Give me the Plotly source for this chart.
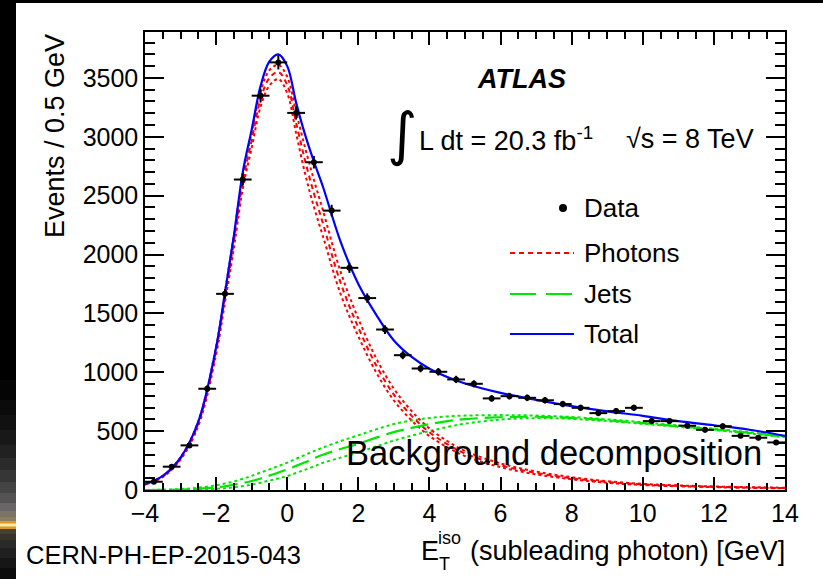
import plotly.graph_objects as go

# ---------------- data ----------------
bin_centers = [-3.75, -3.25, -2.75, -2.25, -1.75, -1.25, -0.75, -0.25, 0.25, 0.75,
               1.25, 1.75, 2.25, 2.75, 3.25, 3.75, 4.25, 4.75, 5.25, 5.75,
               6.25, 6.75, 7.25, 7.75, 8.25, 8.75, 9.25, 9.75, 10.25, 10.75,
               11.25, 11.75, 12.25, 12.75, 13.25, 13.75]
data_counts = [70, 198, 379, 860, 1666, 2637, 3349, 3632, 3203, 2784,
               2373, 1887, 1630, 1363, 1145, 1032, 1004, 939, 902, 778,
               797, 783, 762, 730, 698, 653, 670, 698, 585, 585,
               546, 511, 542, 460, 444, 404]
data_err = [8, 14, 19, 29, 41, 51, 58, 60, 57, 53,
            49, 43, 40, 37, 34, 32, 32, 31, 30, 28,
            28, 28, 28, 27, 26, 26, 26, 26, 24, 24,
            23, 23, 23, 21, 21, 20]
bin_halfwidth = [0.25] * len(bin_centers)

curve_x = [-4, -3.5, -3, -2.5, -2, -1.75, -1.5, -1.25, -1, -0.75, -0.5, -0.25, 0, 0.25,
           0.5, 0.75, 1, 1.5, 2, 2.5, 3, 3.5, 4, 4.5, 5, 6, 7, 8, 9, 10, 11, 12, 13, 14]
total = [50, 120, 275, 580, 1210, 1680, 2160, 2700, 3060, 3430, 3640, 3700, 3600, 3290,
         3020, 2790, 2580, 2110, 1750, 1490, 1270, 1130, 1030, 960, 905, 825, 765, 712,
         668, 630, 585, 550, 512, 460]
photons = [48, 115, 268, 565, 1185, 1640, 2110, 2620, 2970, 3320, 3500, 3550, 3440, 3120,
           2800, 2520, 2270, 1760, 1380, 1060, 810, 630, 490, 390, 310, 210, 145, 100,
           68, 47, 35, 27, 21, 17]
photons_hi = [51, 120, 278, 585, 1220, 1685, 2165, 2680, 3035, 3385, 3565, 3610, 3510, 3210,
              2910, 2635, 2380, 1855, 1455, 1120, 860, 670, 522, 416, 332, 226, 157, 109,
              75, 52, 39, 30, 24, 19]
photons_lo = [45, 110, 258, 545, 1150, 1595, 2055, 2560, 2905, 3255, 3435, 3490, 3370, 3030,
              2690, 2405, 2160, 1665, 1305, 1000, 760, 590, 458, 364, 288, 194, 133, 91,
              61, 42, 31, 24, 18, 15]
jets = [0, 1, 4, 10, 22, 32, 45, 60, 76, 98, 122, 148, 175, 205,
        235, 268, 300, 348, 392, 445, 492, 528, 560, 585, 602, 618, 622, 612,
        592, 568, 542, 515, 485, 452]
jets_hi = [0, 3, 8, 20, 40, 55, 72, 95, 120, 148, 175, 203, 232, 265,
           298, 330, 360, 415, 465, 515, 560, 590, 612, 625, 632, 636, 632, 620,
           600, 575, 548, 520, 490, 456]
jets_lo = [0, 0, 1, 4, 10, 15, 22, 33, 45, 62, 80, 98, 118, 145,
           172, 200, 230, 275, 320, 370, 420, 462, 500, 535, 563, 598, 610, 604,
           585, 562, 536, 510, 480, 448]

x_tick_vals = [-4, -2, 0, 2, 4, 6, 8, 10, 12, 14]
y_tick_vals = [0, 500, 1000, 1500, 2000, 2500, 3000, 3500]

legend_labels = ["Data", "Photons", "Jets", "Total"]

# ---------------- geometry helpers ----------------
W, H = 823, 579
L, R, T, B = 145, 785, 32, 490


def px(xp):
    return (xp - L) / (R - L)


def py(yp):
    return (B - yp) / (B - T)


RED, GREEN, BLUE = "#ff0000", "#00e600", "#0000ff"
FONT = "Liberation Sans, Arial, Helvetica, sans-serif"

fig = go.Figure()

# bands (dotted)
for arr in (jets_hi, jets_lo):
    fig.add_trace(go.Scatter(x=curve_x, y=arr, mode="lines", line_shape="spline",
                             line=dict(color=GREEN, width=2, dash="dot"), hoverinfo="skip"))
for arr in (photons_hi, photons_lo):
    fig.add_trace(go.Scatter(x=curve_x, y=arr, mode="lines", line_shape="spline",
                             line=dict(color=RED, width=2, dash="dot"), hoverinfo="skip"))
fig.add_trace(go.Scatter(x=curve_x, y=photons, mode="lines", line_shape="spline",
                         line=dict(color=RED, width=2, dash="5px,4px"), name="Photons"))
fig.add_trace(go.Scatter(x=curve_x, y=jets, mode="lines", line_shape="spline",
                         line=dict(color=GREEN, width=2.2, dash="18px,7px"), name="Jets"))
fig.add_trace(go.Scatter(x=curve_x, y=total, mode="lines", line_shape="spline",
                         line=dict(color=BLUE, width=2.2), name="Total"))
fig.add_trace(go.Scatter(
    x=bin_centers, y=data_counts, mode="markers", name="Data",
    marker=dict(color="black", size=6),
    error_x=dict(type="data", array=bin_halfwidth, color="black", thickness=2, width=0),
    error_y=dict(type="data", array=data_err, color="black", thickness=2, width=0)))

axis_common = dict(showgrid=False, zeroline=False, showline=True, linecolor="black",
                   linewidth=1.5, mirror="ticks", ticks="inside", tickcolor="black",
                   tickwidth=1.5, tickfont=dict(family=FONT, size=25, color="black"))

fig.update_xaxes(range=[-4, 14], tickvals=x_tick_vals, ticklen=13,
                 minor=dict(dtick=0.5, tick0=-4, ticklen=7, ticks="inside",
                            tickcolor="black", tickwidth=1.5),
                 **axis_common)
fig.update_yaxes(range=[0, 3890], tickvals=y_tick_vals, ticklen=19,
                 minor=dict(dtick=100, tick0=0, ticklen=10, ticks="inside",
                            tickcolor="black", tickwidth=1.5),
                 **axis_common)

shapes = []
ann = []

# slide decorations (black frame strip on left/top, gold line)
shapes.append(dict(type="rect", xref="paper", yref="paper", x0=px(0), x1=px(16),
                   y0=py(H), y1=py(0), fillcolor="black", line_width=0, layer="below"))
shapes.append(dict(type="rect", xref="paper", yref="paper", x0=px(0), x1=px(W),
                   y0=py(3), y1=py(0), fillcolor="black", line_width=0, layer="below"))
grad = [(380, "#050505"), (400, "#0b0b0b"), (415, "#111111"), (430, "#181818"),
        (445, "#212121"), (458, "#2b2b2b"), (470, "#363636"), (482, "#444444"),
        (493, "#545454"), (503, "#666666"), (511, "#7a7468"), (517, "#8c7e5e")]
for i, (y0, c) in enumerate(grad):
    y1 = grad[i + 1][0] if i + 1 < len(grad) else 521
    shapes.append(dict(type="rect", xref="paper", yref="paper", x0=px(0), x1=px(16),
                       y0=py(y1), y1=py(y0), fillcolor=c, line_width=0, layer="below"))
shapes.append(dict(type="rect", xref="paper", yref="paper", x0=px(0), x1=px(16),
                   y0=py(529), y1=py(521), fillcolor="#d89a28", line_width=0, layer="below"))
shapes.append(dict(type="rect", xref="paper", yref="paper", x0=px(0), x1=px(16),
                   y0=py(526.5), y1=py(523.5), fillcolor="#ffe9a8", line_width=0, layer="below"))
grad2 = [(529, "#4a4030"), (534, "#383228"), (540, "#2a2a2a"), (548, "#202020"),
         (558, "#161616"), (568, "#0c0c0c")]
for i, (y0, c) in enumerate(grad2):
    y1 = grad2[i + 1][0] if i + 1 < len(grad2) else H
    shapes.append(dict(type="rect", xref="paper", yref="paper", x0=px(0), x1=px(16),
                       y0=py(y1), y1=py(y0), fillcolor=c, line_width=0, layer="below"))

# legend (manual, ROOT style)
leg_y = [208, 253, 294, 334]
shapes.append(dict(type="circle", xref="paper", yref="paper", x0=px(560), x1=px(566),
                   y0=py(211), y1=py(205), fillcolor="black", line_color="black"))
shapes.append(dict(type="line", xref="paper", yref="paper", x0=px(510), x1=px(574),
                   y0=py(leg_y[1]), y1=py(leg_y[1]), line=dict(color=RED, width=2, dash="5px,4px")))
shapes.append(dict(type="line", xref="paper", yref="paper", x0=px(510), x1=px(574),
                   y0=py(leg_y[2]), y1=py(leg_y[2]), line=dict(color=GREEN, width=2.2, dash="26px,10px")))
shapes.append(dict(type="line", xref="paper", yref="paper", x0=px(510), x1=px(574),
                   y0=py(leg_y[3]), y1=py(leg_y[3]), line=dict(color=BLUE, width=2.2)))
for lab, yy in zip(legend_labels, leg_y):
    ann.append(dict(text=lab, xref="paper", yref="paper", x=px(582), y=py(yy),
                    xanchor="left", yanchor="middle", showarrow=False,
                    font=dict(family=FONT, size=26, color="black")))

# ATLAS label and luminosity
ann.append(dict(text="<b><i>ATLAS</i></b>", xref="paper", yref="paper", x=px(521), y=py(79),
                xanchor="center", yanchor="middle", showarrow=False,
                font=dict(family=FONT, size=27, color="black")))
ann.append(dict(text="∫", xref="paper", yref="paper", x=px(402), y=py(134),
                xanchor="center", yanchor="middle", showarrow=False,
                font=dict(family="DejaVu Sans, sans-serif", size=58, color="black")))
ann.append(dict(text="L dt = 20.3 fb<sup>-1</sup>", xref="paper", yref="paper", x=px(417), y=py(139),
                xanchor="left", yanchor="middle", showarrow=False,
                font=dict(family=FONT, size=27, color="black")))
ann.append(dict(text="√s = 8 TeV", xref="paper", yref="paper", x=px(624), y=py(139),
                xanchor="left", yanchor="middle", showarrow=False,
                font=dict(family=FONT, size=27, color="black")))

# axis titles
ann.append(dict(text="Events / 0.5 GeV", xref="paper", yref="paper", x=px(55), y=1.0,
                xanchor="center", yanchor="top", textangle=-90, showarrow=False,
                font=dict(family=FONT, size=27, color="black")))
ann.append(dict(text="E", xref="paper", yref="paper", x=px(419), y=py(551),
                xanchor="left", yanchor="middle", showarrow=False,
                font=dict(family=FONT, size=27, color="black")))
ann.append(dict(text="iso", xref="paper", yref="paper", x=px(436), y=py(538),
                xanchor="left", yanchor="middle", showarrow=False,
                font=dict(family=FONT, size=18, color="black")))
ann.append(dict(text="T", xref="paper", yref="paper", x=px(437), y=py(564),
                xanchor="left", yanchor="middle", showarrow=False,
                font=dict(family=FONT, size=18, color="black")))
ann.append(dict(text="(subleading photon) [GeV]", xref="paper", yref="paper", x=px(787), y=py(551),
                xanchor="right", yanchor="middle", showarrow=False,
                font=dict(family=FONT, size=27, color="black")))

# slide overlay texts
ann.append(dict(text="Background decomposition", xref="paper", yref="paper", x=px(344), y=py(453),
                xanchor="left", yanchor="middle", showarrow=False,
                font=dict(family=FONT, size=34.5, color="black")))
ann.append(dict(text="CERN-PH-EP-2015-043", xref="paper", yref="paper", x=px(24), y=py(555),
                xanchor="left", yanchor="middle", showarrow=False,
                font=dict(family=FONT, size=25.5, color="black")))

fig.update_layout(width=W, height=H, margin=dict(l=L, r=W - R, t=T, b=H - B),
                  paper_bgcolor="white", plot_bgcolor="white", showlegend=False,
                  shapes=shapes, annotations=ann)

fig.write_html("out.html")
